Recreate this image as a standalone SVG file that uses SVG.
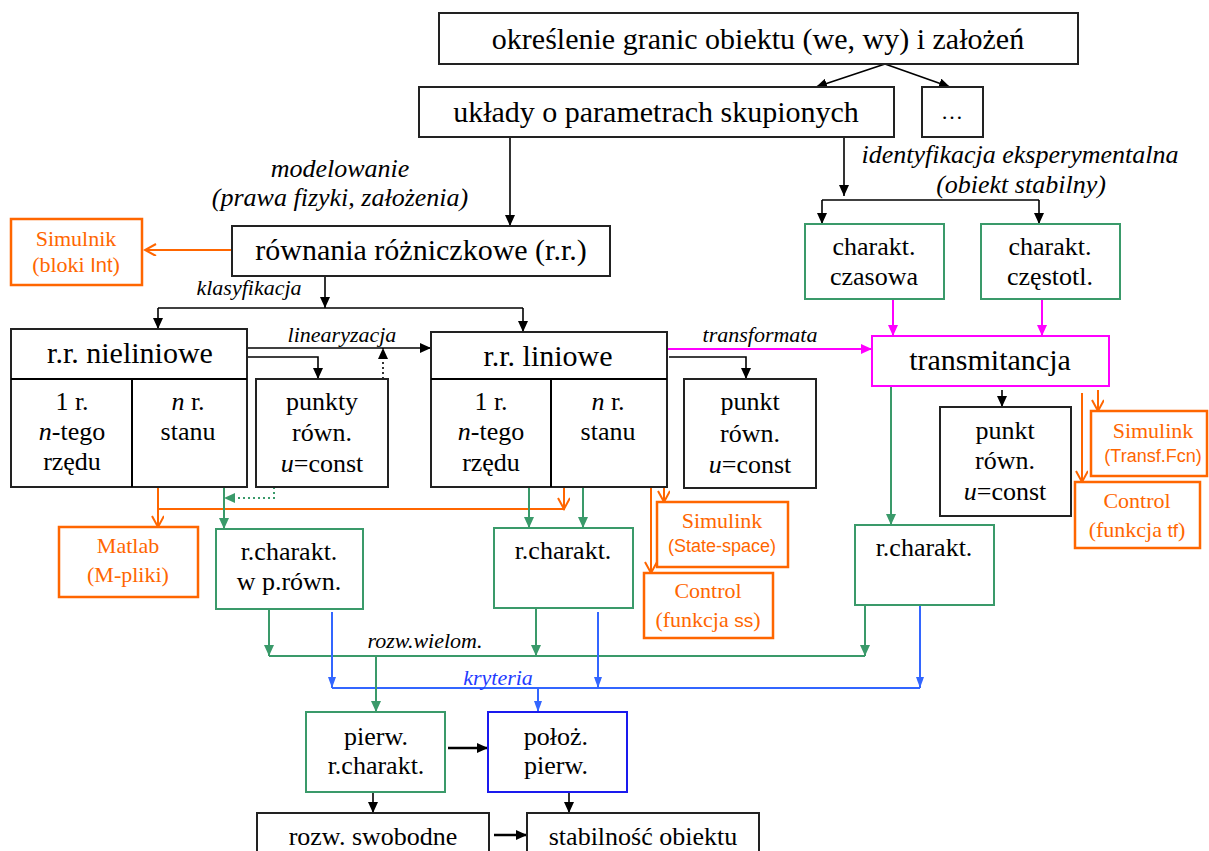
<svg xmlns="http://www.w3.org/2000/svg" width="1209" height="851" viewBox="0 0 1209 851" font-family="'Liberation Serif', 'DejaVu Serif', serif">
<style>
.bx{fill:#fff;stroke:#222;stroke-width:2}
.gb{fill:#fff;stroke:#3a9a6a;stroke-width:2}
.ob{fill:#fff;stroke:#f60;stroke-width:2.5}
.mb{fill:#fff;stroke:#f0f;stroke-width:2}
.bb{fill:#fff;stroke:#1a1aee;stroke-width:2}
text{font-family:'Liberation Serif','DejaVu Serif',serif;fill:#000;text-anchor:middle}
.t30{font-size:30px}
.t26{font-size:26px}
.t22{font-size:22px}
.it{font-style:italic}
.or{fill:#f60}
.ar{font-family:'Liberation Sans','DejaVu Sans',sans-serif}
.k{fill:none;stroke:#000;stroke-width:1.6}
.g{fill:none;stroke:#3a9a6a;stroke-width:2}
.o{fill:none;stroke:#f60;stroke-width:2}
.m{fill:none;stroke:#f0f;stroke-width:2}
.b{fill:none;stroke:#3366ff;stroke-width:2}
.dot{stroke-dasharray:2 3}
</style>
<defs>
<marker id="ak" markerUnits="userSpaceOnUse" markerWidth="12" markerHeight="10" refX="11" refY="5" orient="auto"><path d="M0,0 L11,5 L0,10 z" fill="#000"/></marker>
<marker id="ag" markerUnits="userSpaceOnUse" markerWidth="12" markerHeight="10" refX="11" refY="5" orient="auto"><path d="M0,0 L11,5 L0,10 z" fill="#3a9a6a"/></marker>
<marker id="am" markerUnits="userSpaceOnUse" markerWidth="12" markerHeight="10" refX="11" refY="5" orient="auto"><path d="M0,0 L11,5 L0,10 z" fill="#f0f"/></marker>
<marker id="ab" markerUnits="userSpaceOnUse" markerWidth="12" markerHeight="10" refX="11" refY="5" orient="auto"><path d="M0,1 L11,5 L0,9 z" fill="#3366ff"/></marker>
<marker id="ao" markerUnits="userSpaceOnUse" markerWidth="14" markerHeight="14" refX="12" refY="6" orient="auto"><path d="M1,0 L12,6 L1,12" fill="none" stroke="#f60" stroke-width="2"/></marker>
</defs>

<g id="connectors">
<path class="k" d="M885,64 L816,87" marker-end="url(#ak)"/>
<path class="k" d="M885,64 L950,87" marker-end="url(#ak)"/>
<path class="k" d="M510,137 V226" marker-end="url(#ak)"/>
<path class="k" d="M844,137 V196" marker-end="url(#ak)"/>
<path class="k" d="M822,200 H1039"/>
<path class="k" d="M822,200 V224" marker-end="url(#ak)"/>
<path class="k" d="M1039,200 V224" marker-end="url(#ak)"/>
<path class="k" d="M325,276 V308" marker-end="url(#ak)"/>
<path class="k" d="M158,308 H523"/>
<path class="k" d="M158,308 V329" marker-end="url(#ak)"/>
<path class="k" d="M523,308 V332" marker-end="url(#ak)"/>
<path class="o" d="M232,250 H145" marker-end="url(#ao)"/>
<path class="k" d="M246,348 H431" marker-end="url(#ak)"/>
<path class="k" d="M241,357 H318 V379" marker-end="url(#ak)"/>
<path class="k dot" d="M383,379 V348" marker-end="url(#ak)"/>
<path class="k" d="M669,357 H746 V379" marker-end="url(#ak)"/>
<path class="m" d="M665,349 H872" marker-end="url(#am)"/>
<path class="m" d="M893,299 V336" marker-end="url(#am)"/>
<path class="m" d="M1042,299 V336" marker-end="url(#am)"/>
<path class="k" d="M1002,390 V407" marker-end="url(#ak)"/>
<path class="o" d="M1098,390 V411" marker-end="url(#ao)"/>
<path class="o" d="M1082,393 V482" marker-end="url(#ao)"/>
<path class="g" d="M891,386 V525" marker-end="url(#ag)"/>
<path class="k" d="M110,413 Q131,383 150,410" marker-end="url(#ak)"/>
<path class="k dot" d="M152,438 Q132,402 112,434" marker-end="url(#ak)"/>
<path class="k" d="M530,414 Q551,383 571,410" marker-end="url(#ak)"/>
<path class="k" d="M572,437 Q551,402 531,434" marker-end="url(#ak)"/>
<path class="o" d="M158,487 V527" marker-end="url(#ao)"/>
<path class="o" d="M158,509 H565"/>
<path class="o" d="M564,485 V509" marker-end="url(#ao)"/>
<path class="g" d="M224,487 V529" marker-end="url(#ag)"/>
<path class="g dot" d="M274,487 V498 H224" marker-end="url(#ag)"/>
<path class="g" d="M529,487 V528" marker-end="url(#ag)"/>
<path class="g" d="M583,487 V528" marker-end="url(#ag)"/>
<path class="o" d="M664,483 V502" marker-end="url(#ao)"/>
<path class="o" d="M651,483 V573" marker-end="url(#ao)"/>
<path class="g" d="M269,609 V656" marker-end="url(#ag)"/>
<path class="g" d="M536,608 V656" marker-end="url(#ag)"/>
<path class="g" d="M865,605 V656" marker-end="url(#ag)"/>
<path class="g" d="M269,656 H865"/>
<path class="b" d="M332,612 V688" marker-end="url(#ab)"/>
<path class="b" d="M598,612 V688" marker-end="url(#ab)"/>
<path class="b" d="M920,605 V688" marker-end="url(#ab)"/>
<path class="b" d="M332,688 H920"/>
<path class="g" d="M376,656 V712" marker-end="url(#ag)"/>
<path class="b" d="M538,688 V712" marker-end="url(#ab)"/>
<path class="k" style="stroke-width:2.5" d="M448,748 H488" marker-end="url(#ak)"/>
<path class="k" d="M373,792 V813" marker-end="url(#ak)"/>
<path class="k" d="M569,792 V813" marker-end="url(#ak)"/>
<path class="k" style="stroke-width:2.5" d="M494,835 H527" marker-end="url(#ak)"/>
</g>

<g id="labels">
<text class="t26 it" x="340" y="177">modelowanie</text>
<text class="t26 it" x="340" y="206">(prawa fizyki, założenia)</text>
<text class="t26 it" x="1020" y="163">identyfikacja eksperymentalna</text>
<text class="t26 it" x="1021" y="193">(obiekt stabilny)</text>
<text class="t22 it" x="249" y="295">klasyfikacja</text>
<text class="t22 it" x="342" y="342">linearyzacja</text>
<text class="t22 it" x="760" y="342">transformata</text>
<text class="t22 it" x="425" y="648">rozw.wielom.</text>
<text class="t22 it" x="498" y="685" style="fill:#1f3bff">kryteria</text>
</g>

<g id="n-top"><rect class="bx" x="439" y="13" width="639" height="51"/><text class="t30" x="758" y="49">określenie granic obiektu (we, wy) i założeń</text></g>
<g id="n-uklady"><rect class="bx" x="419" y="87" width="475" height="50"/><text class="t30" x="656" y="122">układy o parametrach skupionych</text></g>
<g id="n-dots"><rect class="bx" x="922" y="87" width="61" height="50"/><text class="t22" x="952" y="119">…</text></g>
<g id="n-rownania"><rect class="bx" x="232" y="226" width="378" height="50"/><text class="t30" x="421" y="260">równania różniczkowe (r.r.)</text></g>
<g id="n-simulnik"><rect class="ob" x="11" y="219" width="131" height="66"/><text class="t22 or" x="76" y="246">Simulnik</text><text class="t22 or" x="76" y="272">(bloki <tspan class="ar" style="font-size:20px">Int</tspan>)</text></g>
<g id="n-nieliniowe"><rect class="bx" x="11" y="329" width="236" height="158"/><path class="k" style="stroke-width:2" d="M11,379 H247 M132,379 V487"/>
<text class="t30" x="130" y="363">r.r. nieliniowe</text>
<text class="t26" x="72" y="410">1 r.</text><text class="t26" x="72" y="440"><tspan class="it">n</tspan>-tego</text><text class="t26" x="72" y="470">rzędu</text>
<text class="t26" x="188" y="410"><tspan class="it">n</tspan> r.</text><text class="t26" x="188" y="440">stanu</text></g>
<g id="n-punkty"><rect class="bx" x="256" y="379" width="132" height="108"/><text class="t26" x="322" y="410">punkty</text><text class="t26" x="322" y="441">równ.</text><text class="t26" x="322" y="472"><tspan class="it">u</tspan>=const</text></g>
<g id="n-liniowe"><rect class="bx" x="431" y="332" width="236" height="155"/><path class="k" style="stroke-width:2" d="M431,379 H667 M551,379 V487"/>
<text class="t30" x="548" y="366">r.r. liniowe</text>
<text class="t26" x="491" y="410">1 r.</text><text class="t26" x="491" y="440"><tspan class="it">n</tspan>-tego</text><text class="t26" x="491" y="471">rzędu</text>
<text class="t26" x="608" y="410"><tspan class="it">n</tspan> r.</text><text class="t26" x="608" y="440">stanu</text></g>
<g id="n-punkt-mid"><rect class="bx" x="684" y="379" width="132" height="109"/><text class="t26" x="750" y="410">punkt</text><text class="t26" x="750" y="442">równ.</text><text class="t26" x="750" y="473"><tspan class="it">u</tspan>=const</text></g>
<g id="n-czasowa"><rect class="gb" x="805" y="224" width="139" height="75"/><text class="t26" x="874" y="255">charakt.</text><text class="t26" x="874" y="285">czasowa</text></g>
<g id="n-czestotl"><rect class="gb" x="981" y="224" width="139" height="75"/><text class="t26" x="1050" y="255">charakt.</text><text class="t26" x="1050" y="285">częstotl.</text></g>
<g id="n-transmitancja"><rect class="mb" x="872" y="336" width="237" height="50"/><text class="t30" x="990" y="370">transmitancja</text></g>
<g id="n-punkt-right"><rect class="bx" x="940" y="407" width="131" height="109"/><text class="t26" x="1005" y="439">punkt</text><text class="t26" x="1005" y="469">równ.</text><text class="t26" x="1005" y="500"><tspan class="it">u</tspan>=const</text></g>
<g id="n-simulink-tf"><rect class="ob" x="1091" y="411" width="116" height="65"/><text class="t22 or" x="1153" y="438">Simulink</text><text class="or ar" x="1153" y="462" style="font-size:18px">(Transf.Fcn)</text></g>
<g id="n-control-tf"><rect class="ob" x="1075" y="482" width="125" height="66"/><text class="t22 or" x="1137" y="508">Control</text><text class="t22 or" x="1137" y="537">(funkcja <tspan class="ar" style="font-size:19px">tf</tspan>)</text></g>
<g id="n-matlab"><rect class="ob" x="59" y="527" width="139" height="70"/><text class="t22 or" x="128" y="553">Matlab</text><text class="t22 or" x="128" y="582">(M-pliki)</text></g>
<g id="n-rchar-prown"><rect class="gb" x="216" y="529" width="147" height="80"/><text class="t26" x="289" y="560">r.charakt.</text><text class="t26" x="289" y="590">w p.równ.</text></g>
<g id="n-rchar-mid"><rect class="gb" x="494" y="528" width="139" height="80"/><text class="t26" x="563" y="559">r.charakt.</text></g>
<g id="n-simulink-ss"><rect class="ob" x="657" y="502" width="131" height="65"/><text class="t22 or" x="722" y="528">Simulink</text><text class="or ar" x="722" y="552" style="font-size:18px">(State-space)</text></g>
<g id="n-control-ss"><rect class="ob" x="644" y="573" width="129" height="65"/><text class="t22 or" x="708" y="598">Control</text><text class="t22 or" x="708" y="627">(funkcja <tspan class="ar" style="font-size:19px">ss</tspan>)</text></g>
<g id="n-rchar-right"><rect class="gb" x="855" y="525" width="139" height="80"/><text class="t26" x="924" y="556">r.charakt.</text></g>
<g id="n-pierw"><rect class="gb" x="306" y="712" width="139" height="80"/><text class="t26" x="376" y="745">pierw.</text><text class="t26" x="376" y="774">r.charakt.</text></g>
<g id="n-poloz"><rect class="bb" x="488" y="712" width="139" height="80"/><text class="t26" x="556" y="745">położ.</text><text class="t26" x="556" y="774">pierw.</text></g>
<g id="n-rozw"><rect class="bx" x="257" y="813" width="232" height="50"/><text class="t26" x="373" y="845">rozw. swobodne</text></g>
<g id="n-stab"><rect class="bx" x="527" y="813" width="232" height="50"/><text class="t26" x="643" y="845">stabilność obiektu</text></g>
</svg>
